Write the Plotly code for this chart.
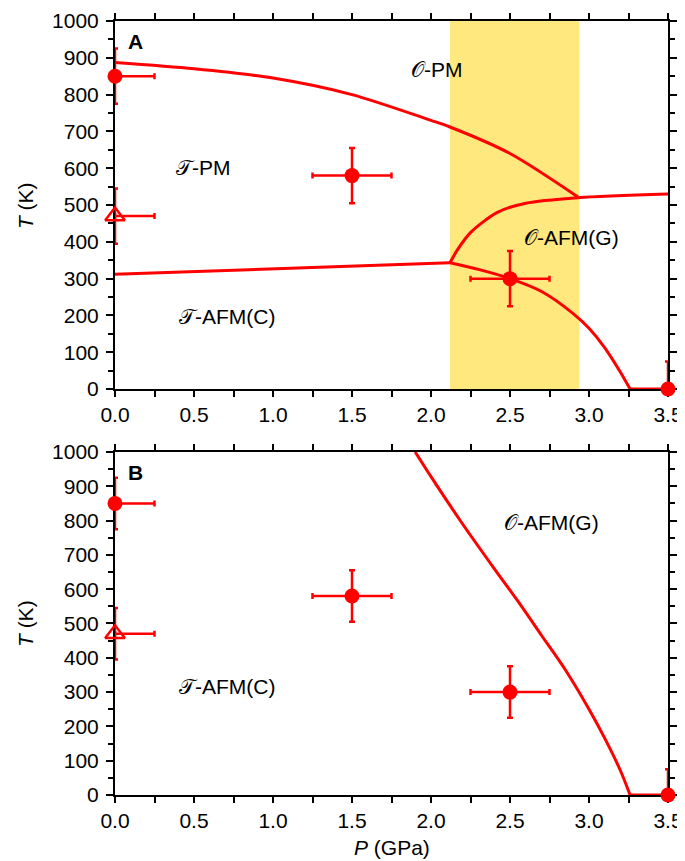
import plotly.graph_objects as go

# ---- data ----
# Panel A boundaries
upper_P = [0.0, 0.5, 1.0, 1.5, 2.0, 2.12, 2.5, 2.93]
upper_T = [887, 870, 845, 800, 730, 712, 640, 522]

oafm_top_P = [2.12, 2.17, 2.25, 2.42, 2.6, 2.93, 3.5]
oafm_top_T = [343, 380, 425, 480, 505, 520, 530]

tafm_P = [0.0, 2.12]
tafm_T = [312, 343]

oafm_low_P = [2.12, 2.3, 2.5, 2.7, 2.9, 3.0, 3.1, 3.2, 3.26]
oafm_low_T = [343, 325, 300, 265, 205, 165, 112, 45, 0]

flat_P = [3.26, 3.5]
flat_T = [0, 0]

band_P = [2.12, 2.94]

# Panel B boundary
b_P = [1.9, 2.0, 2.2, 2.4, 2.55, 2.7, 2.85, 3.0, 3.1, 3.2, 3.26]
b_T = [1000, 928, 790, 660, 565, 465, 365, 250, 165, 70, 0]

# Experimental points (circles)
pt_P = [0.0, 1.5, 2.5, 3.5]
pt_T = [850, 580, 300, 0]
pt_xerr_plus = [0.25, 0.25, 0.25, 0.0]
pt_xerr_minus = [0.0, 0.25, 0.25, 0.0]
pt_yerr_plus = [75, 75, 75, 75]
pt_yerr_minus = [75, 75, 75, 0]

# Triangle point
tri_P = [0.0]
tri_T = [470]
tri_xerr_plus = [0.25]
tri_xerr_minus = [0.0]
tri_yerr = [75]

labels_A = [("𝒪-PM", 2.04, 869), ("𝒯-PM", 0.56, 602), ("𝒪-AFM(G)", 2.89, 411), ("𝒯-AFM(C)", 0.71, 196)]
labels_B = [("𝒪-AFM(G)", 2.76, 793), ("𝒯-AFM(C)", 0.71, 315)]

RED = "#ff0000"
FONT = "Liberation Sans, Arial, Helvetica, sans-serif"
FS = 21

fig = go.Figure()

def line(P, T, xa, ya, smooth=True):
    fig.add_trace(go.Scatter(x=P, y=T, mode="lines",
                             line=dict(color=RED, width=3, shape="spline" if smooth else "linear", smoothing=0.8),
                             xaxis=xa, yaxis=ya, cliponaxis=False, showlegend=False, hoverinfo="skip"))

def points(xa, ya):
    fig.add_trace(go.Scatter(
        x=pt_P, y=pt_T, mode="markers", xaxis=xa, yaxis=ya, cliponaxis=False, showlegend=False,
        marker=dict(symbol="circle", size=15, color=RED),
        error_x=dict(type="data", symmetric=False, array=pt_xerr_plus, arrayminus=pt_xerr_minus,
                     color=RED, thickness=2.5, width=3),
        error_y=dict(type="data", symmetric=False, array=pt_yerr_plus, arrayminus=pt_yerr_minus,
                     color=RED, thickness=2.5, width=3)))
    fig.add_trace(go.Scatter(
        x=tri_P, y=tri_T, mode="markers", xaxis=xa, yaxis=ya, cliponaxis=False, showlegend=False,
        marker=dict(symbol="triangle-up-open", size=17, color=RED, line=dict(color=RED, width=2.5)),
        error_x=dict(type="data", symmetric=False, array=tri_xerr_plus, arrayminus=tri_xerr_minus,
                     color=RED, thickness=2.5, width=3),
        error_y=dict(type="data", array=tri_yerr, color=RED, thickness=2.5, width=3)))

# Panel A
line(upper_P, upper_T, "x", "y")
line(oafm_top_P, oafm_top_T, "x", "y")
line(tafm_P, tafm_T, "x", "y", smooth=False)
line(oafm_low_P, oafm_low_T, "x", "y")
line(flat_P, flat_T, "x", "y", smooth=False)
points("x", "y")

# Panel B
line(b_P, b_T, "x2", "y2")
line(flat_P, flat_T, "x2", "y2", smooth=False)
points("x2", "y2")

fig.add_shape(type="rect", xref="x", yref="y", x0=band_P[0], x1=band_P[1], y0=0, y1=1000,
              fillcolor="#ffe97f", line=dict(width=0), layer="below")

axis_common = dict(showline=True, linecolor="black", linewidth=2, mirror="ticks", ticks="outside",
                   tickcolor="black", tickwidth=2, showgrid=False, zeroline=False, automargin=False,
                   tickfont=dict(family=FONT, size=FS, color="black"), layer="below traces")

xcommon = dict(axis_common, range=[0, 3.5], dtick=0.5, tick0=0, ticklen=6, tickformat=".1f",
               minor=dict(dtick=0.25, ticklen=6, tickwidth=2, tickcolor="black", ticks="outside"))
ycommon = dict(axis_common, range=[0, 1000], dtick=100, tick0=0, ticklen=7, ticklabelstandoff=3,
               minor=dict(dtick=50, ticklen=5, tickwidth=2, tickcolor="black", ticks="outside"))

# page body has an 8px margin, so the figure is offset by 8px right and down
fig.update_layout(
    width=677, height=853,
    margin=dict(l=107, r=17, t=13, b=66),
    paper_bgcolor="white", plot_bgcolor="white",
    font=dict(family=FONT, size=FS, color="black"),
    xaxis=dict(xcommon, domain=[0, 1], anchor="y"),
    yaxis=dict(ycommon, domain=[0.5245, 1], anchor="x"),
    xaxis2=dict(xcommon, domain=[0, 1], anchor="y2"),
    yaxis2=dict(ycommon, domain=[0, 0.4432], anchor="x2"),
)

def txt_font():
    return dict(family=FONT, size=FS, color="black")

ann = []
for txt, p, t in labels_A:
    ann.append(dict(text=txt, x=p, y=t, xref="x", yref="y", showarrow=False,
                    xanchor="center", yanchor="middle", font=txt_font()))
for txt, p, t in labels_B:
    ann.append(dict(text=txt, x=p, y=t, xref="x2", yref="y2", showarrow=False,
                    xanchor="center", yanchor="middle", font=txt_font()))
ann.append(dict(text="<b>A</b>", x=0.037, y=0.973, xref="paper", yref="paper", showarrow=False,
                xanchor="center", yanchor="middle", font=txt_font()))
ann.append(dict(text="<b>B</b>", x=0.037, y=0.417, xref="paper", yref="paper", showarrow=False,
                xanchor="center", yanchor="middle", font=txt_font()))
ann.append(dict(text="<i>T</i> (K)", x=-0.163, y=0.762, xref="paper", yref="paper", showarrow=False,
                xanchor="center", yanchor="middle", textangle=-90, font=txt_font()))
ann.append(dict(text="<i>T</i> (K)", x=-0.163, y=0.222, xref="paper", yref="paper", showarrow=False,
                xanchor="center", yanchor="middle", textangle=-90, font=txt_font()))
ann.append(dict(text="<i>P</i> (GPa)", x=0.5, y=-0.068, xref="paper", yref="paper", showarrow=False,
                xanchor="center", yanchor="middle", font=txt_font()))
fig.update_layout(annotations=ann)

fig.write_html("out.html")
